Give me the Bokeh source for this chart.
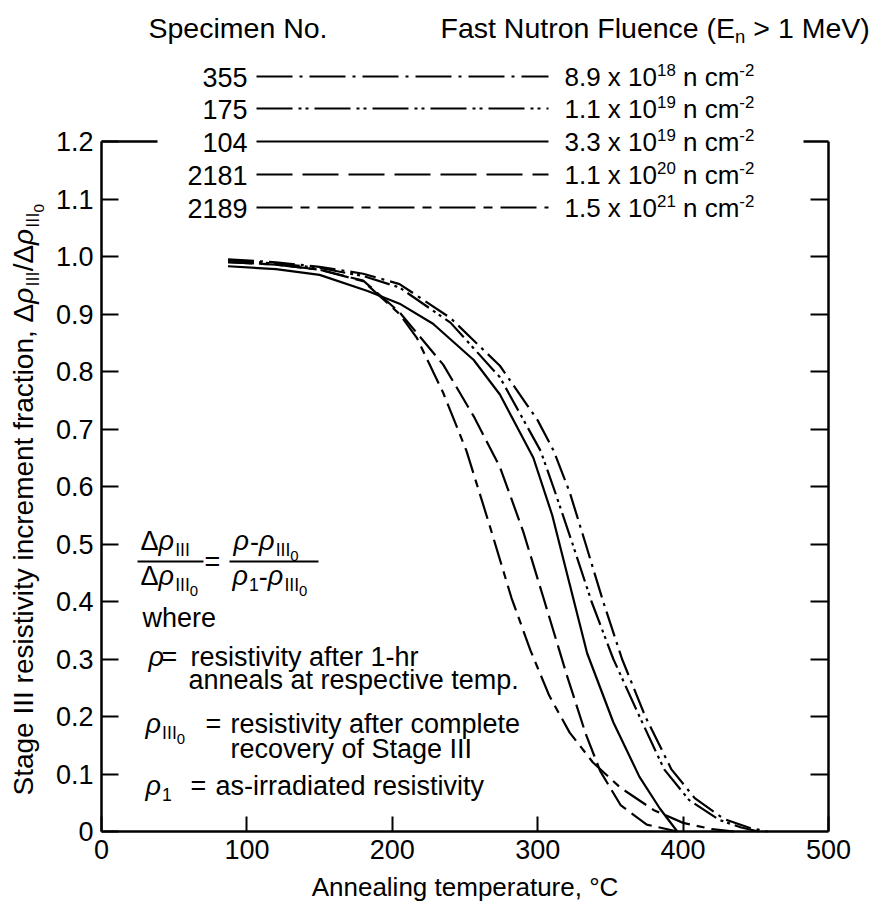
import math
from bokeh.plotting import figure
from bokeh.models import Range1d, FixedTicker, LinearAxis, Label, Arrow, PrintfTickFormatter
from bokeh.embed import file_html
from bokeh.resources import INLINE

# ---------------- data ----------------
temp_355 = [87, 120, 150, 180, 205, 240, 274, 300, 311, 322, 333, 345, 358, 374, 392, 408, 428, 445, 458]
frac_355 = [0.995, 0.990, 0.982, 0.970, 0.952, 0.893, 0.810, 0.715, 0.662, 0.590, 0.500, 0.400, 0.300, 0.200, 0.108, 0.058, 0.022, 0.007, 0.000]

temp_175 = [87, 120, 150, 180, 205, 240, 274, 302, 312, 324, 337, 352, 370, 387, 404, 425, 440, 452]
frac_175 = [0.993, 0.988, 0.980, 0.966, 0.946, 0.885, 0.790, 0.662, 0.590, 0.500, 0.400, 0.300, 0.200, 0.108, 0.055, 0.020, 0.007, 0.000]

temp_104 = [87, 120, 150, 183, 205, 228, 256, 274, 297, 310, 322, 334, 352, 370, 384, 396]
frac_104 = [0.983, 0.978, 0.968, 0.940, 0.918, 0.883, 0.820, 0.760, 0.650, 0.550, 0.430, 0.310, 0.190, 0.095, 0.040, 0.000]

temp_2181 = [87, 120, 150, 180, 205, 235, 256, 274, 290, 304, 320, 333, 343, 357, 375, 396]
frac_2181 = [0.990, 0.986, 0.977, 0.958, 0.903, 0.812, 0.722, 0.634, 0.522, 0.406, 0.272, 0.170, 0.105, 0.046, 0.012, 0.000]

temp_2189 = [87, 120, 150, 180, 205, 217, 235, 251, 266, 282, 295, 308, 322, 338, 357, 380, 400, 420, 435]
frac_2189 = [0.990, 0.986, 0.977, 0.957, 0.900, 0.858, 0.763, 0.662, 0.540, 0.406, 0.315, 0.236, 0.172, 0.120, 0.076, 0.037, 0.015, 0.004, 0.000]

specimens = ["355", "175", "104", "2181", "2189"]
fluence_mantissa = ["8.9", "1.1", "3.3", "1.1", "1.5"]
fluence_exponent = ["18", "19", "19", "20", "21"]

x_ticks = [0, 100, 200, 300, 400, 500]
y_ticks = [0, 0.1, 0.2, 0.3, 0.4, 0.5, 0.6, 0.7, 0.8, 0.9, 1.0, 1.1, 1.2]

series = {
    "355": (temp_355, frac_355),
    "175": (temp_175, frac_175),
    "104": (temp_104, frac_104),
    "2181": (temp_2181, frac_2181),
    "2189": (temp_2189, frac_2189),
}

# ---------------- styles / layout ----------------
curve_dash = {"355": "26 6 3 6", "175": "26 5 3 4 3 5", "104": "solid",
              "2181": "24 7", "2189": "26 7 8 7"}
legend_dash = {"355": "36 7 3 7", "175": "36 6 3 4 3 6", "104": "solid",
               "2181": "36 10", "2189": "36 8 9 8"}

WIDTH, HEIGHT = 872, 905
FL, FR, FT, FB = 101, 828, 141, 831          # page pixels of the data box
X0, X1, Y0, Y1 = 0, 500, 0, 1.2
FONT = "Liberation Sans"
FS = 27
MID = 0.35   # text anchor sits this many ems above the baseline

kx = (X1 - X0) / (FR - FL)
ky = (Y1 - Y0) / (FB - FT)
x_range = Range1d(X0 - FL * kx, X1 + (WIDTH - FR) * kx)
y_range = Range1d(Y0 - (HEIGHT - FB) * ky, Y1 + FT * ky)

p = figure(width=WIDTH, height=HEIGHT, x_range=x_range, y_range=y_range,
           output_backend="svg", toolbar_location=None, title=None,
           min_border=0, min_border_left=0, min_border_right=0,
           min_border_top=0, min_border_bottom=0)
p.outline_line_color = None
p.xgrid.grid_line_color = None
p.ygrid.grid_line_color = None
p.background_fill_color = "white"
p.border_fill_color = "white"

for ax in (p.xaxis[0], p.yaxis[0]):
    ax.axis_line_width = 2.5
    ax.axis_line_color = "black"
    ax.major_tick_line_width = 2
    ax.major_tick_line_color = "black"
    ax.major_tick_out = 0
    ax.minor_tick_line_color = None
    ax.major_label_text_font = FONT
    ax.major_label_text_font_size = f"{FS}px"
    ax.major_label_text_color = "black"

p.xaxis.fixed_location = Y0
p.yaxis.fixed_location = X0
p.xaxis.bounds = (X0, X1)
p.yaxis.bounds = (Y0, Y1)
p.xaxis.ticker = FixedTicker(ticks=x_ticks)
p.yaxis.ticker = FixedTicker(ticks=y_ticks)
p.yaxis.formatter = PrintfTickFormatter(format="%.1f")
p.yaxis.major_label_overrides = {0: "0"}
p.xaxis.major_tick_in = 15
p.yaxis.major_tick_in = 17
p.xaxis.major_label_standoff = 8
p.yaxis.major_label_standoff = 8

ra = LinearAxis(ticker=FixedTicker(ticks=y_ticks[1:-1]), fixed_location=X1, bounds=(Y0, Y1),
                axis_line_width=2.5, major_tick_line_width=2, major_tick_in=18, major_tick_out=0,
                minor_tick_line_color=None, major_label_text_color=None)
p.add_layout(ra, "right")

# curves
for name in specimens:
    xs, ys = series[name]
    p.line(xs, ys, line_color="black", line_width=2.2, line_dash=curve_dash[name])

# ---------------- helpers for text / lines placed in page pixels ----------------
NB = "\u00a0"
WT = {' ': 278, NB: 278, '!': 278, '(': 333, ')': 333, ',': 278, '-': 333, '.': 278, '/': 278,
      '=': 584, '>': 584, '°': 400, 'Δ': 668, 'ρ': 578}
for c in "0123456789":
    WT[c] = 556
WT.update(dict(zip("ABCDEFGHIJKLMNOPQRSTUVWXYZ",
                   [667, 667, 722, 722, 667, 611, 778, 722, 278, 500, 667, 556, 833, 722, 778,
                    667, 778, 722, 667, 611, 722, 667, 944, 667, 667, 611])))
WT.update(dict(zip("abcdefghijklmnopqrstuvwxyz",
                   [556, 556, 500, 556, 556, 278, 556, 556, 222, 222, 500, 222, 833, 556, 556,
                    556, 556, 333, 500, 278, 556, 500, 722, 500, 500, 500])))


def tw(s, size):
    return sum(WT.get(c, 556) for c in s) * size / 1000.0


def label(px, py, text, size=FS, italic=False, align="left", angle=0.0):
    """px, py: page pixel of the text baseline start."""
    text = text.replace(" ", NB)
    if angle == 0.0:
        ax_, ay_ = px, py - MID * size
    else:
        ax_, ay_ = px - MID * size, py
    p.add_layout(Label(x=ax_, y=HEIGHT - ay_, x_units="screen", y_units="screen",
                       text=text, text_font=FONT, text_font_size=f"{size:.1f}px",
                       text_font_style="italic" if italic else "normal",
                       text_color="black", text_align=align, text_baseline="middle",
                       angle=angle))


def seg(px0, py0, px1, py1, width=2.0, dash="solid"):
    p.add_layout(Arrow(end=None, x_start=px0, y_start=HEIGHT - py0, x_end=px1, y_end=HEIGHT - py1,
                       start_units="screen", end_units="screen",
                       line_color="black", line_width=width, line_dash=dash))


def N(t, it=False):
    return (t, 1.0, 0.0, it)


def SUB(t):
    return (t, 0.65, 0.20, False)


def SUB2(t):
    return (t, 0.55, 0.40, False)


def SUP(t):
    return (t, 0.65, -0.42, False)


def rich(px, py, parts, size=FS, vertical=False):
    cur = px if not vertical else py
    for text, f, dy, it in parts:
        s = size * f
        if not vertical:
            label(cur, py + dy * size, text, s, it)
        else:
            label(px + dy * size, cur, text, s, it, angle=math.pi / 2)
        cur = cur + tw(text, s) if not vertical else cur - tw(text, s)
        if it:
            cur = cur + 1 if not vertical else cur - 1


# top frame edge, visible only outside the legend block
seg(FL, FT, 157, FT, width=2.5)
seg(803, FT, FR, FT, width=2.5)

# ---------------- legend block ----------------
HS = 28.5
label(148, 37, "Specimen No.", size=HS)
rich(440, 37, [N("Fast Nutron Fluence (E"), SUB("n"), N(" > 1 MeV)")], size=HS)
row_base = [86, 118, 151, 184, 217]
for i, name in enumerate(specimens):
    yb = row_base[i]
    label(247, yb, name, align="right")
    seg(256, yb - 10, 548, yb - 10, width=2.2, dash=legend_dash[name])
    rich(564, yb, [N(fluence_mantissa[i] + " x 10"), SUP(fluence_exponent[i]), N(" n cm"), SUP("-2")],
         size=26)

# ---------------- formula block ----------------
rich(140, 550, [N("Δ"), N("ρ", True), SUB("III")])
rich(140, 585, [N("Δ"), N("ρ", True), SUB("III"), SUB2("0")])
seg(137, 561, 203, 561, width=2)
label(204, 571, "=")
rich(233, 550, [N("ρ", True), N("-"), N("ρ", True), SUB("III"), SUB2("0")])
rich(232, 585, [N("ρ", True), SUB("1"), N("-"), N("ρ", True), SUB("III"), SUB2("0")])
seg(229, 561, 318, 561, width=2)

label(142, 627, "where")
label(148, 666, "ρ", italic=True)
label(161, 666, "=")
label(190, 666, "resistivity after 1-hr")
label(188, 689, "anneals at respective temp.")
rich(145, 733, [N("ρ", True), SUB("III"), SUB2("0")])
label(205, 733, "=")
label(230, 733, "resistivity after complete")
label(230, 758, "recovery of Stage III")
rich(145, 795, [N("ρ", True), SUB("1")])
label(190, 795, "=")
label(215, 795, "as-irradiated resistivity")

# ---------------- axis titles ----------------
label((FL + FR) / 2, 896, "Annealing temperature, °C", size=26, align="center")
rich(33, 795, [N("Stage III resistivity increment fraction, "), N("Δ"), N("ρ", True), SUB("III"),
               N("/"), N("Δ"), N("ρ", True), SUB("III"), SUB2("0")], size=28, vertical=True)

open("out.html", "w").write(file_html(p, INLINE))
